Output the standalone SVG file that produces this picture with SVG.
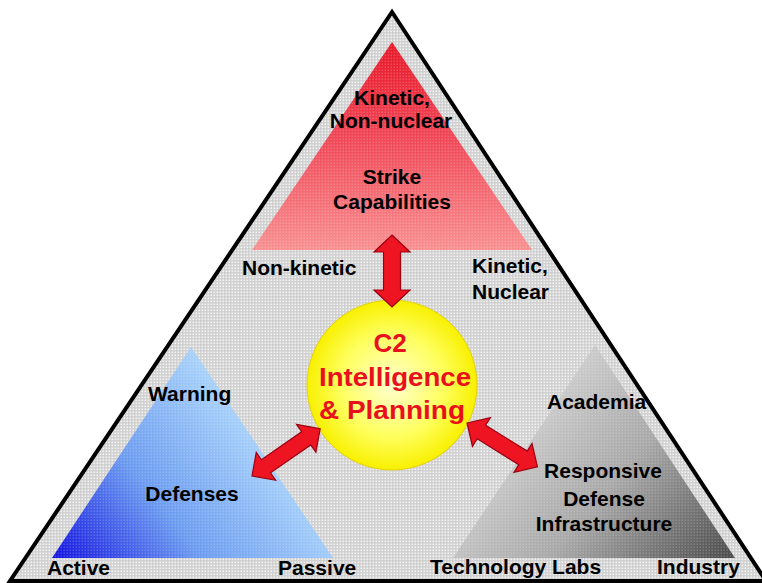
<svg xmlns="http://www.w3.org/2000/svg" width="762" height="583" viewBox="0 0 762 583">
  <defs>
    <pattern id="dots" width="3" height="3" patternUnits="userSpaceOnUse">
      <rect width="3" height="3" fill="#cfcfcf"/>
      <rect x="0.5" y="0.5" width="1.6" height="1.6" fill="#f4f4f4"/>
    </pattern>
    <pattern id="speck" width="3" height="3" patternUnits="userSpaceOnUse">
      <rect x="0.5" y="0.5" width="1.5" height="1.5" fill="#ffffff" opacity="0.18"/>
    </pattern>
    <linearGradient id="gRed" x1="0" y1="0" x2="0" y2="1">
      <stop offset="0" stop-color="#e81828"/>
      <stop offset="0.45" stop-color="#f04656"/>
      <stop offset="1" stop-color="#f89090"/>
    </linearGradient>
    <linearGradient id="gBlue" gradientUnits="userSpaceOnUse" x1="55" y1="560" x2="260" y2="400">
      <stop offset="0" stop-color="#1414e0"/>
      <stop offset="0.45" stop-color="#6c9cf0"/>
      <stop offset="1" stop-color="#b4dcfc"/>
    </linearGradient>
    <linearGradient id="gGray" gradientUnits="userSpaceOnUse" x1="520" y1="380" x2="730" y2="560">
      <stop offset="0" stop-color="#d6d6d6"/>
      <stop offset="0.5" stop-color="#a8a8a8"/>
      <stop offset="1" stop-color="#4c4c4c"/>
    </linearGradient>
    <radialGradient id="gYellow" cx="0.5" cy="0.5" r="0.5">
      <stop offset="0" stop-color="#ffffd0"/>
      <stop offset="0.6" stop-color="#ffff60"/>
      <stop offset="1" stop-color="#f8f000"/>
    </radialGradient>
  </defs>
  <style>
    .lbl { font-family: "Liberation Sans", Arial, sans-serif; font-weight: bold; font-size: 21px; fill: #000000; }
    .mid { text-anchor: middle; }
    .red { font-family: "Liberation Sans", Arial, sans-serif; font-weight: bold; font-size: 26px; fill: #e8101c; text-anchor: middle; }
    .arrow { fill: #ee1422; stroke: #9a0010; stroke-width: 1.2; stroke-linejoin: miter; }
  </style>

  <rect width="762" height="583" fill="#ffffff"/>

  <g id="outer">
    <polygon points="392,12 10,581 766,581" fill="url(#dots)" stroke="#000000" stroke-width="4" stroke-linejoin="miter"/>
  </g>

  <g id="strike">
    <polygon points="392,42 252,250 532,250" fill="url(#gRed)"/>
    <polygon points="392,42 252,250 532,250" fill="url(#speck)"/>
    <text class="lbl mid" x="392" y="105">Kinetic,</text>
    <text class="lbl mid" x="391" y="128">Non-nuclear</text>
    <text class="lbl mid" x="392" y="184">Strike</text>
    <text class="lbl mid" x="392" y="209">Capabilities</text>
    <text class="lbl" x="242" y="275">Non-kinetic</text>
    <text class="lbl" x="472" y="273">Kinetic,</text>
    <text class="lbl" x="472" y="299">Nuclear</text>
  </g>

  <g id="defenses">
    <polygon points="191,347 52,558 333,558" fill="url(#gBlue)"/>
    <polygon points="191,347 52,558 333,558" fill="url(#speck)"/>
    <text class="lbl" x="148" y="401">Warning</text>
    <text class="lbl mid" x="192" y="501">Defenses</text>
    <text class="lbl" x="47" y="575">Active</text>
    <text class="lbl" x="278" y="575">Passive</text>
  </g>

  <g id="infrastructure">
    <polygon points="595,345 453,558 735,558" fill="url(#gGray)"/>
    <polygon points="595,345 453,558 735,558" fill="url(#speck)"/>
    <text class="lbl" x="547" y="409">Academia</text>
    <text class="lbl mid" x="603" y="478">Responsive</text>
    <text class="lbl mid" x="604" y="506">Defense</text>
    <text class="lbl mid" x="604" y="531">Infrastructure</text>
    <text class="lbl" x="430" y="574">Technology Labs</text>
    <text class="lbl" x="657" y="574">Industry</text>
  </g>

  <g id="c2">
    <circle cx="392" cy="385" r="85" fill="url(#gYellow)" stroke="#e6d200" stroke-width="1"/>
    <text class="red" x="390" y="352">C2</text>
    <text class="red" x="395" y="386" textLength="152" lengthAdjust="spacingAndGlyphs">Intelligence</text>
    <text class="red" x="392" y="419" textLength="146" lengthAdjust="spacingAndGlyphs">&amp; Planning</text>
  </g>

  <g id="connectors">
    <path class="arrow" transform="translate(392,235) rotate(90)" d="M0,0 L17,-18 L17,-8.5 L55,-8.5 L55,-18 L72,0 L55,18 L55,8.5 L17,8.5 L17,18 Z"/>
    <path class="arrow" transform="translate(252,476) rotate(-34.8)" d="M0,0 L17,-17 L17,-8 L66,-8 L66,-17 L83,0 L66,17 L66,8 L17,8 L17,17 Z"/>
    <path class="arrow" transform="translate(467,423) rotate(31.9)" d="M0,0 L17,-17 L17,-8 L66,-8 L66,-17 L83,0 L66,17 L66,8 L17,8 L17,17 Z"/>
  </g>
</svg>
